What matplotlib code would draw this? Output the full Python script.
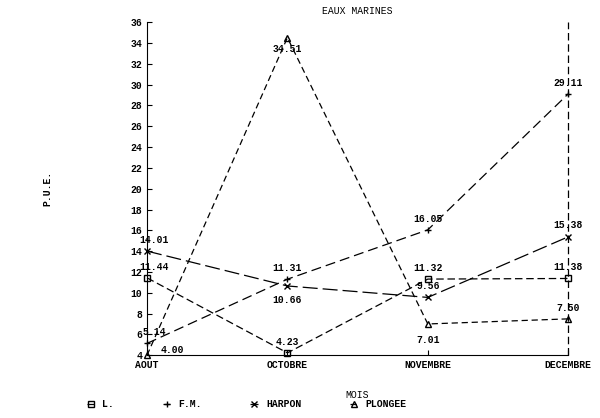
import matplotlib
matplotlib.use("Agg")
import matplotlib.pyplot as plt

mois = ["AOUT", "OCTOBRE", "NOVEMBRE", "DECEMBRE"]
l_vals = [11.44, 4.23, 11.32, 11.38]
fm_vals = [5.14, 11.31, 16.05, 29.11]
harpon_vals = [14.01, 10.66, 9.56, 15.38]
plongee_vals = [4.00, 34.51, 7.01, 7.50]
labels = ["L.", "F.M.", "HARPON", "PLONGEE"]

plt.rcParams["font.family"] = "Liberation Mono"
plt.rcParams["font.weight"] = "bold"

fig = plt.figure(figsize=(6.0, 4.18), dpi=100)
ax = fig.add_axes([0.245, 0.15, 0.702, 0.797])
x = range(len(mois))

series = [
    (l_vals, "s", (0, (6, 3))),
    (fm_vals, "+", (0, (8, 4))),
    (harpon_vals, "x", (0, (12, 4))),
    (plongee_vals, "^", (0, (5, 3))),
]
handles = []
for vals, m, ls in series:
    h, = ax.plot(x, vals, color="black", lw=0.9, linestyle=ls, marker=m,
                 markersize=4, markerfacecolor="none", markeredgewidth=1,
                 clip_on=False)
    handles.append(h)

ann = [
    (l_vals, [(5, 6), (0, 6), (0, 6), (0, 6)]),
    (fm_vals, [(5, 6), (0, 6), (0, 6), (0, 6)]),
    (harpon_vals, [(5, 6), (0, -12), (0, 6), (0, 6)]),
    (plongee_vals, [(18, 2), (0, -10), (0, -14), (0, 6)]),
]
for vals, offs in ann:
    for i, (v, o) in enumerate(zip(vals, offs)):
        ax.annotate(f"{v:.2f}", (i, v), xytext=o, textcoords="offset points",
                    ha="center", fontsize=7)

ax.set_xlim(0, 3)
ax.set_ylim(4, 36)
ax.set_yticks(range(4, 37, 2))
ax.set_xticks(list(x))
ax.set_xticklabels(mois, fontsize=7)
ax.tick_params(labelsize=7, direction="in")
for s in ["top", "right"]:
    ax.spines[s].set_visible(False)
ax.axvline(3, color="black", lw=0.9, ls=(0, (6, 3)), clip_on=False)
ax.set_title("EAUX MARINES", fontsize=7)
ax.set_xlabel("MOIS", fontsize=7, labelpad=14)
fig.text(0.07, 0.55, "P.U.E.", rotation=90, fontsize=7, va="center")
fig.legend(handles, labels, loc="lower left", bbox_to_anchor=(0.13, 0.0), ncol=4,
           frameon=False, fontsize=7, handlelength=0.8, columnspacing=5)

fig.savefig("out.png")
